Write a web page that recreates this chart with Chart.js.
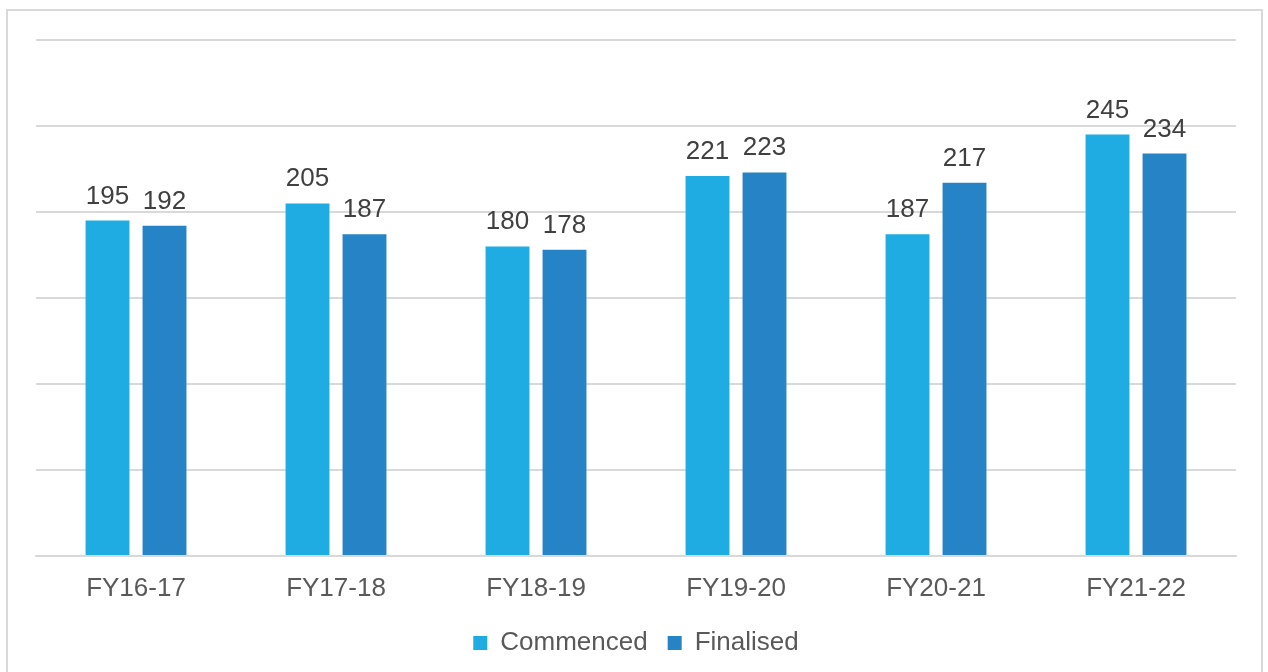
<!DOCTYPE html>
<html>
<head>
<meta charset="utf-8">
<script src="https://cdn.jsdelivr.net/npm/chart.js@4.4.1/dist/chart.umd.min.js"></script>
<style>
  html, body { margin: 0; padding: 0; background: #fff; overflow: hidden; }
  #wrap { position: relative; width: 1268px; height: 672px; }
  #frame { position: absolute; left: 6px; top: 9px; width: 1257px; height: 700px; border: 2px solid #d9d9d9; box-sizing: border-box; }
  canvas { position: absolute; left: 0; top: 0; }
</style>
</head>
<body>
<div id="wrap">
  <div id="frame"></div>
  <canvas id="chart" width="1268" height="672"></canvas>
</div>
<script>
// Data
const categories = ['FY16-17', 'FY17-18', 'FY18-19', 'FY19-20', 'FY20-21', 'FY21-22'];
const commenced = [195, 205, 180, 221, 187, 245];
const finalised = [192, 187, 178, 223, 217, 234];
const seriesNames = ['Commenced', 'Finalised'];

const FONT = "'Liberation Sans', Arial, sans-serif";

// Value labels above each bar
const barLabels = {
    id: 'barLabels',
    afterDatasetsDraw(chart) {
        const ctx = chart.ctx;
        ctx.save();
        ctx.font = '26px ' + FONT;
        ctx.fillStyle = '#404040';
        ctx.textAlign = 'center';
        ctx.textBaseline = 'alphabetic';
        chart.data.datasets.forEach((ds, i) => {
            chart.getDatasetMeta(i).data.forEach((bar, j) => {
                ctx.fillText(ds.data[j], bar.x, bar.y - 17);
            });
        });
        ctx.restore();
    }
};

new Chart(document.getElementById('chart'), {
    type: 'bar',
    data: {
        labels: categories,
        datasets: [
            { label: seriesNames[0], data: commenced, backgroundColor: '#1eace3', categoryPercentage: 0.57, barPercentage: 0.77 },
            { label: seriesNames[1], data: finalised, backgroundColor: '#2683c6', categoryPercentage: 0.57, barPercentage: 0.77 }
        ]
    },
    options: {
        responsive: false,
        animation: false,
        layout: { padding: { left: 36, right: 32, top: 40, bottom: 6 } },
        plugins: {
            tooltip: { enabled: false },
            legend: {
                position: 'bottom',
                labels: {
                    font: { family: FONT, size: 26 },
                    color: '#595959',
                    boxWidth: 14,
                    boxHeight: 14,
                    padding: 20
                }
            }
        },
        scales: {
            x: {
                grid: { display: false },
                border: { color: '#d9d9d9', width: 2 },
                ticks: { font: { family: FONT, size: 26 }, color: '#595959', padding: 9 },
                afterFit(scale) { scale.height = 54; }
            },
            y: {
                min: 0,
                max: 300,
                ticks: { stepSize: 50, display: false },
                grid: { color: '#d9d9d9', lineWidth: 2, drawTicks: false },
                border: { display: false }
            }
        }
    },
    plugins: [barLabels]
});
</script>
</body>
</html>
